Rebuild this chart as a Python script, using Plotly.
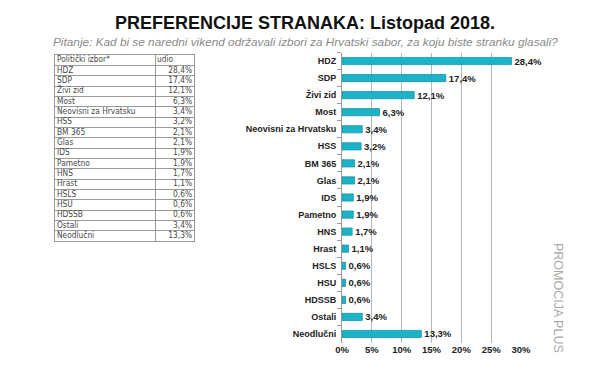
import plotly.graph_objects as go

categories = ["HDZ", "SDP", "Živi zid", "Most", "Neovisni za Hrvatsku", "HSS", "BM 365",
              "Glas", "IDS", "Pametno", "HNS", "Hrast", "HSLS", "HSU", "HDSSB", "Ostali", "Neodlučni"]
values = [28.4, 17.4, 12.1, 6.3, 3.4, 3.2, 2.1, 2.1, 1.9, 1.9, 1.7, 1.1, 0.6, 0.6, 0.6, 3.4, 13.3]
tick_vals = [0, 5, 10, 15, 20, 25, 30]
tick_text = ["0%", "5%", "10%", "15%", "20%", "25%", "30%"]
table_header = ["Politički izbor*", "udio"]

W, H = 600, 375
OFF = 8  # page body margin
def px_x(p): return (p - OFF) / W
def px_y(p): return 1 - (p - OFF) / H

labels = [f"{v:.1f}%".replace(".", ",") for v in values]

fig = go.Figure()

# Bar chart
fig.add_trace(go.Bar(
    x=values, y=categories, orientation="h",
    marker=dict(color="#1db3c7", line=dict(color="#1596a8", width=0.8)),
    width=0.42,
    text=labels, textposition="outside", cliponaxis=False, constraintext="none",
    textfont=dict(family="Liberation Sans, Arial", size=9.5, color="#222", weight="bold"),
    hoverinfo="skip",
))

# Table drawn on its own axes (rows: header + categories)
n_rows = len(categories) + 1
row_idx = list(range(n_rows))
tab_font = dict(family="DejaVu Sans Condensed, DejaVu Sans", size=8.3, color="#4a4a4a")
fig.add_trace(go.Scatter(
    x=[2] * n_rows, y=row_idx, mode="text",
    text=[table_header[0]] + categories, textposition="middle right",
    textfont=tab_font, xaxis="x2", yaxis="y2", hoverinfo="skip", cliponaxis=False,
))
fig.add_trace(go.Scatter(
    x=[102] + [137] * len(labels), y=row_idx, mode="text",
    text=[table_header[1]] + labels,
    textposition=["middle right"] + ["middle left"] * len(labels),
    textfont=tab_font, xaxis="x2", yaxis="y2", hoverinfo="skip", cliponaxis=False,
))

fig.update_layout(
    width=W, height=H,
    margin=dict(l=0, r=0, t=0, b=0, autoexpand=False),
    paper_bgcolor="white", plot_bgcolor="white",
    showlegend=False,
    xaxis=dict(domain=[px_x(342), px_x(521)], range=[0, 30], tickvals=tick_vals, ticktext=tick_text,
               showgrid=True, gridcolor="#b8b8b8", gridwidth=1, zeroline=False, showline=False,
               tickfont=dict(family="Liberation Sans, Arial", size=9.5, color="#222", weight="bold"),
               ticklen=0, automargin=False),
    yaxis=dict(domain=[px_y(342.5), px_y(52.5)], autorange="reversed",
               showline=True, linecolor="#999", linewidth=1,
               ticks="outside", tickson="boundaries", ticklen=4, tickcolor="#999",
               tickfont=dict(family="Liberation Sans, Arial", size=9, color="#222", weight="bold"),
               ticklabelstandoff=3, automargin=False),
    xaxis2=dict(domain=[px_x(55), px_x(194)], range=[0, 139], anchor="y2",
                tickvals=[100], showgrid=True, gridcolor="#999", showticklabels=False, ticks="",
                showline=True, mirror=True, linecolor="#999", zeroline=False, automargin=False),
    yaxis2=dict(domain=[px_y(241), px_y(55)], range=[n_rows - 0.5, -0.5], anchor="x2",
                tickvals=[i + 0.5 for i in range(n_rows - 1)], showgrid=True, gridcolor="#999",
                showticklabels=False, ticks="", showline=True, mirror=True, linecolor="#999",
                zeroline=False, automargin=False),
    annotations=[
        dict(text="<b>PREFERENCIJE STRANAKA: Listopad 2018.</b>", x=px_x(305), y=px_y(23),
             xref="paper", yref="paper", showarrow=False, yanchor="middle",
             font=dict(family="Liberation Sans, Arial", size=18, color="#111")),
        dict(text="<i>Pitanje: Kad bi se naredni vikend održavali izbori za Hrvatski sabor, za koju biste stranku glasali?</i>",
             x=px_x(305), y=px_y(42), xref="paper", yref="paper", showarrow=False, yanchor="middle",
             font=dict(family="Liberation Sans, Arial", size=11.8, color="#8a8a8a")),
        dict(text="PROMOCIJA PLUS", x=px_x(567), y=px_y(298), xref="paper", yref="paper",
             showarrow=False, textangle=90, yanchor="middle",
             font=dict(family="Liberation Sans, Arial", size=12.5, color="#a8a8a8")),
    ],
)

fig.write_html("out.html")
